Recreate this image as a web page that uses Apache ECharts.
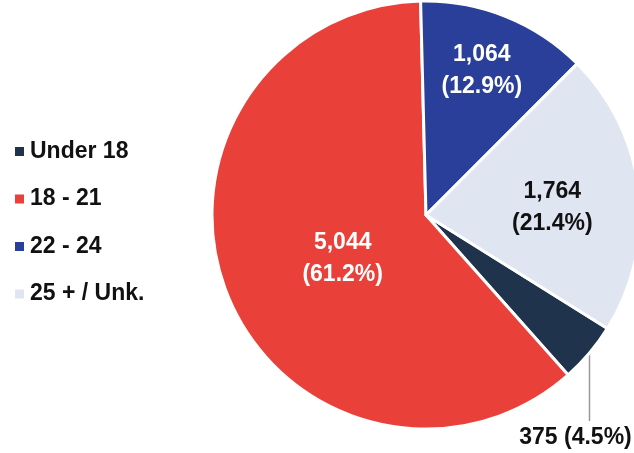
<!DOCTYPE html>
<html>
<head>
<meta charset="utf-8">
<script src="https://cdn.jsdelivr.net/npm/echarts@6/dist/echarts.min.js"></script>
<style>
  html, body { margin: 0; padding: 0; background: #fff; }
  #chart { width: 634px; height: 453px; }
</style>
</head>
<body>
<div id="chart"></div>
<script>
// age groups, legend order
var categories = ['Under 18', '18 - 21', '22 - 24', '25 + / Unk.'];
var counts = [375, 5044, 1064, 1764];
var colors = ['#1f334d', '#e9413a', '#293f99', '#dfe6f1'];
// inside label nudges (px), by slice
var labelShift = [[0, 0], [19, 3], [15, -42], [17, 5]];

var total = counts.reduce(function (a, b) { return a + b; }, 0);

function fmt(n) {
  return n.toString().replace(/\B(?=(\d{3})+(?!\d))/g, ',');
}

var chart = echarts.init(document.getElementById('chart'));

chart.setOption({
  animation: false,
  legend: {
    orient: 'vertical',
    left: 8,
    top: 135,
    icon: 'rect',
    itemWidth: 11,
    itemHeight: 11,
    itemGap: 24.5,
    data: categories,
    textStyle: {
      fontFamily: 'Liberation Sans',
      fontWeight: 'bold',
      fontSize: 23,
      color: '#111',
      lineHeight: 23
    }
  },
  series: [{
    type: 'pie',
    center: [426, 215],
    radius: 214,
    startAngle: -32,
    clockwise: true,
    avoidLabelOverlap: false,
    itemStyle: { borderColor: '#fff', borderWidth: 3 },
    data: categories.map(function (c, i) {
      var pct = (counts[i] / total * 100).toFixed(1);
      var item = {
        name: c,
        value: counts[i],
        itemStyle: { color: colors[i] },
        label: {
          position: 'inside',
          formatter: fmt(counts[i]) + '\n(' + pct + '%)',
          color: i === 3 ? '#111' : '#fff'
        },
        labelLine: { show: false }
      };
      if (i === 0) {
        item.label = {
          position: 'outside',
          formatter: fmt(counts[i]) + ' (' + pct + '%)',
          color: '#111'
        };
        item.labelLine = { show: true, lineStyle: { color: '#999', width: 1.5 } };
      }
      return item;
    }),
    label: {
      fontFamily: 'Liberation Sans',
      fontWeight: 'bold',
      fontSize: 23,
      lineHeight: 32
    },
    labelLayout: function (p) {
      if (p.dataIndex === 0) {
        var p0 = p.labelLinePoints[0];
        return {
          x: p0[0] - 14,
          y: p0[1] + 85,
          align: 'center',
          verticalAlign: 'middle',
          labelLinePoints: [p0, [p0[0], p0[1] + 8], [p0[0], p0[1] + 68]]
        };
      }
      var s = labelShift[p.dataIndex];
      return { dx: s[0], dy: s[1] };
    }
  }]
});
</script>
</body>
</html>
